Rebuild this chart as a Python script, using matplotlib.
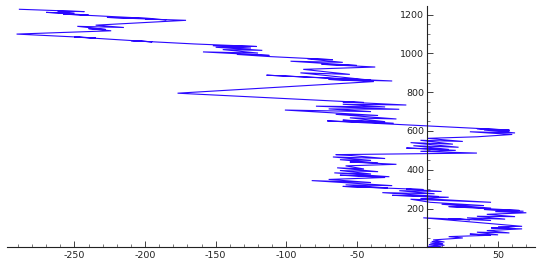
import matplotlib
matplotlib.use("Agg")
import matplotlib.pyplot as plt
from matplotlib.ticker import MultipleLocator, FixedLocator

plt.rcParams['axes.unicode_minus'] = False

# Walk vertices (x, y), bottom to top, grouped by band
band_a = [(0, 5), (10, 2), (1, 14), (12, 10), (2, 22), (11, 18), (3, 30), (12, 27), (4, 38)]
band_b = [(25, 48), (15, 55), (45, 62), (30, 68), (50, 64), (35, 78), (58, 74), (42, 86),
          (67, 95), (45, 100), (62, 97), (50, 106), (67, 108)]
band_c = [(-3, 152), (30, 142), (15, 148), (45, 138), (28, 152), (55, 145), (35, 160),
          (62, 158), (42, 170), (70, 178), (48, 184), (68, 186), (40, 195), (65, 190)]
band_d = [(15, 210), (45, 202), (10, 222), (40, 215), (2, 232)]
band_e = [(-12, 248), (45, 232), (-5, 252), (15, 258), (-25, 268), (8, 262), (-32, 282),
          (5, 276), (-20, 292), (10, 288), (-15, 300), (-3, 298)]
band_f = [(-60, 314), (-28, 306), (-58, 322), (-25, 318), (-82, 344), (-40, 334), (-70, 350)]
band_g = [(-30, 360), (-62, 372), (-27, 364), (-66, 384), (-40, 378), (-62, 396), (-35, 390),
          (-64, 410), (-45, 404), (-58, 420), (-22, 428), (-55, 440), (-35, 435), (-62, 452),
          (-40, 448), (-67, 466), (-30, 458), (-55, 474), (-65, 478)]
band_h = [(35, 486), (-5, 495)]
band_i = [(20, 500), (-15, 512), (15, 505), (-10, 524), (22, 516), (-12, 540), (18, 532),
          (-5, 552), (25, 546), (0, 562), (35, 570)]
band_j = [(60, 582), (30, 596), (62, 590), (40, 605), (58, 600), (35, 612), (58, 605)]
band_k = [(-71, 652), (-24, 640), (-60, 656), (-30, 648), (-55, 668), (-22, 662), (-65, 686),
          (-35, 680), (-101, 708), (-40, 700), (-70, 714), (-20, 712), (-79, 728), (-30, 724),
          (-60, 738), (-15, 734)]
band_l = [(-60, 750), (-45, 747), (-177, 795)]
band_m = [(-38, 855), (-70, 866), (-25, 858), (-114, 888), (-40, 862), (-90, 900), (-55, 892),
          (-88, 918), (-37, 930), (-75, 944), (-50, 938), (-97, 960), (-60, 954), (-85, 972),
          (-67, 968), (-112, 984)]
band_n = [(-135, 995), (-112, 990), (-159, 1008), (-120, 1002), (-145, 1020), (-117, 1016),
          (-150, 1032), (-125, 1028), (-152, 1040), (-121, 1036), (-165, 1049)]
band_o = [(-210, 1066), (-195, 1060), (-250, 1085), (-235, 1080), (-291, 1100)]
band_p = [(-224, 1117), (-240, 1128), (-228, 1124), (-248, 1140), (-215, 1134), (-235, 1146),
          (-171, 1171), (-200, 1178), (-185, 1174), (-227, 1186), (-195, 1180), (-258, 1203),
          (-240, 1198), (-270, 1212), (-250, 1208), (-262, 1218), (-243, 1216), (-289, 1228)]

bands = [band_a, band_b, band_c, band_d, band_e, band_f, band_g, band_h,
         band_i, band_j, band_k, band_l, band_m, band_n, band_o, band_p]

x_ticks = [-250, -200, -150, -100, -50, 50]
y_ticks = [200, 400, 600, 800, 1000, 1200]

xs = [p[0] for b in bands for p in b]
ys = [p[1] for b in bands for p in b]

fig = plt.figure(figsize=(5.4, 2.6), dpi=100)
ax = fig.add_axes([0.0124, 0.043, 0.978, 0.934])
ax.plot(xs, ys, color='#2a08ff', lw=0.8, solid_joinstyle='miter')

ax.set_xlim(-298, 76)
ax.set_ylim(-8, 1245)

for s in ['top', 'right']:
    ax.spines[s].set_visible(False)
ax.spines['left'].set_position(('data', 0))
ax.spines['bottom'].set_position(('data', 0))
for s in ['left', 'bottom']:
    ax.spines[s].set_linewidth(0.8)
    ax.spines[s].set_color('#222222')
ax.spines['left'].set_bounds(0, 1245)

ax.xaxis.set_major_locator(FixedLocator(x_ticks))
ax.yaxis.set_major_locator(FixedLocator(y_ticks))
ax.xaxis.set_minor_locator(MultipleLocator(10))
ax.yaxis.set_minor_locator(MultipleLocator(50))
ax.tick_params(which='major', direction='in', length=4, width=0.6,
               labelsize=6.8, pad=2.5, colors='#222222')
ax.tick_params(which='minor', direction='in', length=2, width=0.5, colors='#444444')

fig.savefig('out.png', dpi=100)
